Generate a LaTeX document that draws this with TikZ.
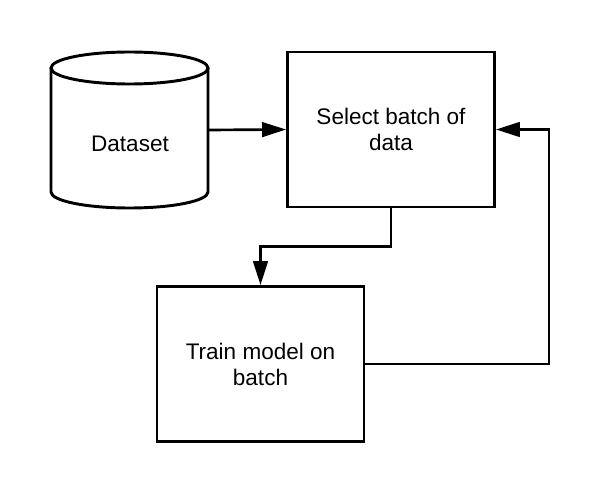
\documentclass[tikz,border=0pt]{standalone}
\usepackage{fontspec}
\setmainfont{Liberation Sans}
\usetikzlibrary{arrows.meta,calc}
\begin{document}
\begin{tikzpicture}[x=0.75pt,y=-0.75pt,
  shapeline/.style={line width=2.2pt},
  box/.style={shapeline,draw,rectangle,minimum width=207*0.75pt,minimum height=155*0.75pt,inner sep=0pt,align=center,
    font=\fontsize{16.9pt}{19.5pt}\selectfont},
  conn/.style={line width=2pt,-{Triangle[length=18pt,width=11pt]}},
  lbl/.style={font=\fontsize{16.9pt}{19.5pt}\selectfont,inner sep=0pt}]
\useasboundingbox (0,0) rectangle (600,495);
% Dataset cylinder
\node[rectangle,minimum width=157*0.75pt,minimum height=156*0.75pt,inner sep=0pt] (ds) at (129.5,130) {};
\draw[shapeline,fill=white] (51,68) -- (51,192) arc[start angle=180,end angle=0,x radius=78.5,y radius=16] -- (208,68);
\draw[shapeline] (129.5,68) ellipse[x radius=78.5,y radius=16];
\node[lbl] (dstxt) at (130,143.5) {Dataset};
% boxes
\node[box] (sel) at (391,129.5) {Select batch of\\data};
\node[box] (train) at (260.5,364) {Train model on\\batch};
% connectors
\draw[conn] (ds.east) -- (sel.west);
\coordinate (mid) at ($(sel.south)!0.5!(train.north)$);
\draw[conn] (sel.south) -- (sel.south |- mid) -| (train.north);
\coordinate (rt) at ($(sel.east)+(53,0)$);
\draw[conn] (train.east) -| (rt) -- (sel.east);
\end{tikzpicture}
\end{document}
